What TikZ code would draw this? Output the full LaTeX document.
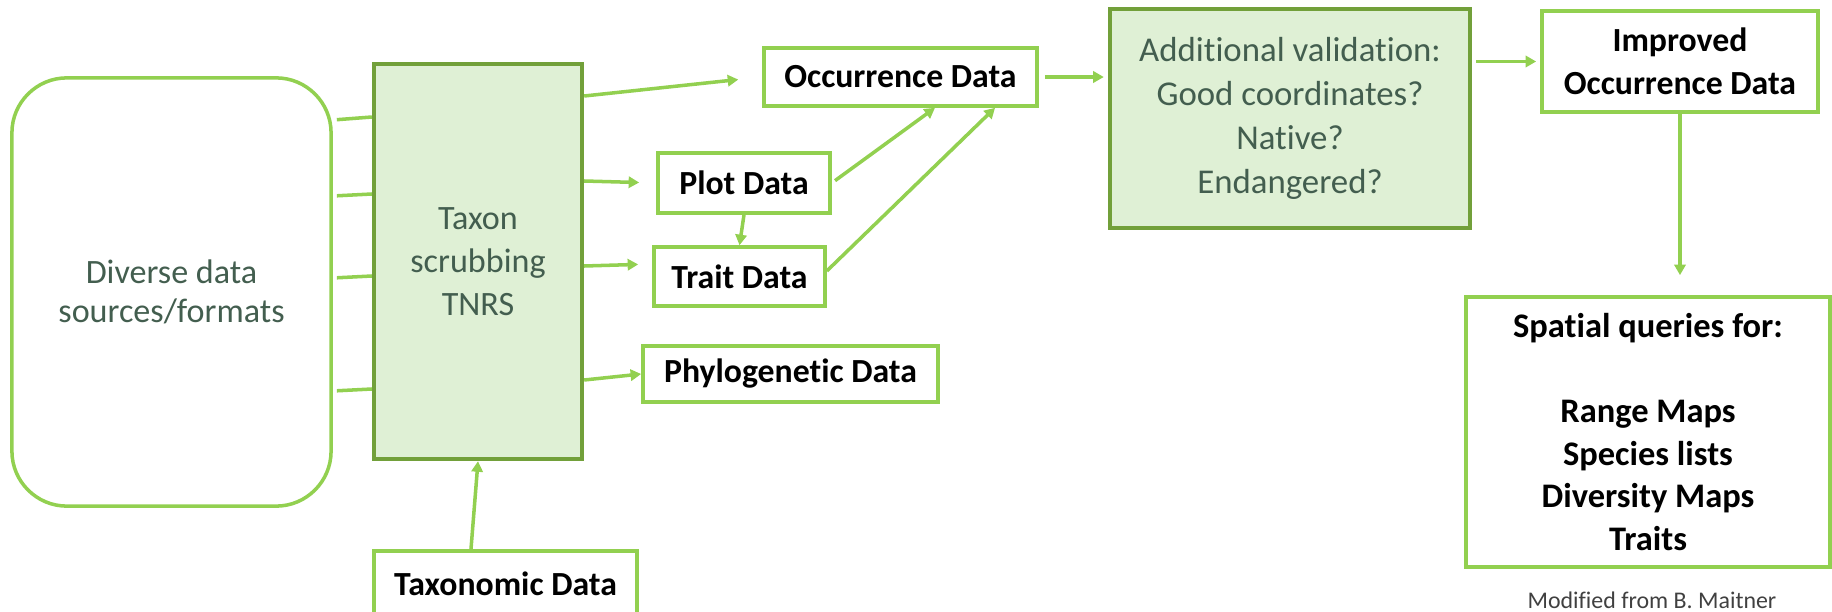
\documentclass[tikz,border=0pt]{standalone}
\usepackage{fontspec}
\setmainfont{Carlito}[RawFeature={-liga,-clig,-calt}]
\usepackage{xcolor}
\usepackage{tikz}
\usetikzlibrary{arrows.meta}

\definecolor{linegreen}{HTML}{92D050}
\definecolor{palegreen}{HTML}{DFF0D5}
\definecolor{darkgreen}{HTML}{72A03A}
\definecolor{textgreen}{HTML}{435E4F}
\definecolor{notegray}{HTML}{404040}

\begin{document}
\begin{tikzpicture}[x=0.01cm,y=-0.01cm,
    whitebox/.style={draw=linegreen,line width=1pt,fill=white,inner sep=0pt,align=center,
      font=\fontsize{9.6}{12.1}\selectfont\bfseries},
    greenbox/.style={draw=darkgreen,line width=1.2pt,fill=palegreen,inner sep=0pt,align=center,
      text=textgreen,font=\fontsize{9.7}{12.3}\selectfont},
    feed/.style={draw=linegreen,line width=1pt,shorten <=0.04cm},
    link/.style={draw=linegreen,line width=1pt,-{Triangle[length=3pt,width=3.2pt]}}]
        \useasboundingbox (0,0) rectangle (1832,612);
        %% sources and scrubbing
        \node[draw=linegreen,line width=1pt,rounded corners=0.55cm,minimum width=3.19cm,minimum height=4.28cm,
          text=textgreen,align=center,font=\fontsize{9.7}{11.2}\selectfont] (src) at (171.5,292) {Diverse data\\sources/formats};
        \node[greenbox,minimum width=2.08cm,minimum height=3.95cm] (taxon) at (478,261.5) {Taxon\\scrubbing\\TNRS};
        \node[whitebox,minimum width=2.63cm,minimum height=0.65cm] (taxo) at (505.5,583.5) {Taxonomic Data};
        %% data boxes
        \node[whitebox,minimum width=2.73cm,minimum height=0.58cm] (occ) at (900.5,77) {Occurrence Data};
        \node[whitebox,minimum width=1.72cm,minimum height=0.60cm] (plot) at (744,183) {Plot Data};
        \node[whitebox,minimum width=1.71cm,minimum height=0.59cm] (trait) at (739.5,276.5) {Trait Data};
        \node[whitebox,minimum width=2.95cm,minimum height=0.56cm] (phylo) at (790.5,374) {Phylogenetic Data};
        %% validation and results
        \node[greenbox,minimum width=3.60cm,minimum height=2.19cm,font=\fontsize{9.9}{12.5}\selectfont] (valid) at (1290,118.5)
          {Additional validation:\\Good coordinates?\\Native?\\Endangered?};
        \node[whitebox,minimum width=2.76cm,minimum height=1.01cm] (imp) at (1680,61.5) {Improved\\Occurrence Data};
        \node[whitebox,minimum width=3.64cm,minimum height=2.70cm,font=\fontsize{9.8}{12.1}\selectfont\bfseries] (spatial) at (1648,432)
          {Spatial queries for:\\[12.1pt]Range Maps\\Species lists\\Diversity Maps\\Traits};
        \node[text=notegray,font=\fontsize{6.8}{8}\selectfont] (note) at (1652,600) {Modified from B. Maitner};
        %% edges
        \draw[feed] (src.east |- 0,120) -- (taxon.west |- 0,117);
        \draw[feed] (src.east |- 0,196) -- (taxon.west |- 0,194);
        \draw[feed] (src.east |- 0,278) -- (taxon.west |- 0,276);
        \draw[feed] (src.east |- 0,391) -- (taxon.west |- 0,389);
        \draw[link,shorten >=0.24cm] (taxon.east |- 0,96) -- (occ.west);
        \draw[link,shorten >=0.17cm] (taxon.east |- 0,181) -- (plot.west);
        \draw[link,shorten >=0.14cm] (taxon.east |- 0,266) -- (trait.west |- 0,264);
        \draw[link] (taxon.east |- 0,380) -- (phylo.west);
        \draw[link] (plot.south) -- (trait.north);
        \draw[link,shorten <=0.04cm] (plot.east) -- ([xshift=0.345cm]occ.south);
        \draw[link] (trait.east |- 0,271) -- ([xshift=0.945cm]occ.south);
        \draw[link,shorten <=0.06cm,shorten >=0.04cm] (occ.east) -- (occ.east -| valid.west);
        \draw[link,shorten <=0.04cm,shorten >=0.04cm] (imp.west -| valid.east) -- (imp.west);
        \draw[link,shorten >=0.2cm] (imp.south) -- (imp.south |- spatial.north);
        \draw[link] ([xshift=-0.345cm]taxo.north) -- (taxon.south);
\end{tikzpicture}
\end{document}
